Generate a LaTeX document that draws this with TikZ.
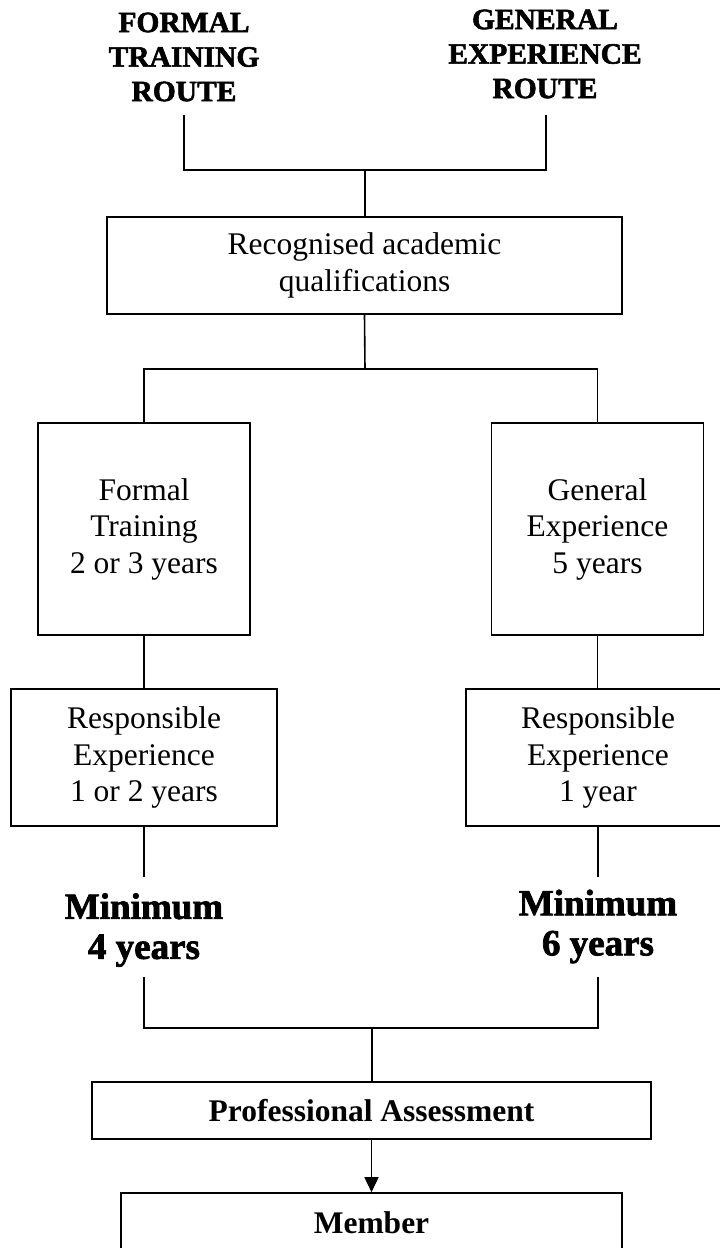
\documentclass[tikz,border=0pt]{standalone}
\usepackage{fontspec}
\setmainfont{Liberation Serif}
\newfontfamily\heavyfont[FakeBold=2]{Liberation Serif}
\usetikzlibrary{arrows.meta}
\begin{document}
\begin{tikzpicture}[x=1pt,y=-1pt,
  box/.style={draw, line width=1.6pt, inner sep=0pt, align=center, font=\fontsize{31.5}{36.5}\selectfont},
  bbox/.style={box, font=\bfseries\fontsize{31.5}{36.5}\selectfont},
  head/.style={inner sep=0pt, align=center, font=\heavyfont\bfseries\fontsize{29.5}{34.5}\selectfont},
  mini/.style={inner sep=0pt, align=center, font=\heavyfont\bfseries\fontsize{37}{40}\selectfont},
  link/.style={draw, line width=1.6pt},
  arrowlink/.style={link, -{Triangle[width=14pt,length=15pt]}},
]
\useasboundingbox (0,0) rectangle (720,1248);
\clip (0,0) rectangle (720,1248);

% headings
\node[head] (hf) at (184,57) {FORMAL\\TRAINING\\ROUTE};
\node[head] (hg) at (545,54) {GENERAL\\EXPERIENCE\\ROUTE};

% boxes
\node[box, minimum width=515, minimum height=97] (rq) at (364.5,265.5) {Recognised academic\\qualifications};
\node[box, minimum width=212.5, minimum height=212] (ft) at (144,529) {Formal\\Training\\2 or 3 years};
\node[box, minimum width=212, minimum height=212] (ge) at (597.5,529) {General\\Experience\\5 years};
\node[box, minimum width=265.5, minimum height=137] (rl) at (144,757.5) {Responsible\\Experience\\1 or 2 years};
\node[box, minimum width=264, minimum height=137] (rr) at (598,757.5) {Responsible\\Experience\\1 year};

% minimum texts
\node[mini] (ml) at (144,930) {Minimum\\4 years};
\node[mini] (mr) at (598,926.5) {Minimum\\6 years};

% bottom boxes
\node[bbox, minimum width=559, minimum height=57] (pa) at (371.5,1110.5) {Professional Assessment};
\node[bbox, minimum width=501, minimum height=60] (mb) at (371.5,1223) {Member};

% junction coordinates
\coordinate (hft) at (184,115);
\coordinate (hgt) at (546,115);
\coordinate (j1) at (365,170);
\coordinate (j2) at (365,369);
\coordinate (la) at (144,877);
\coordinate (ra) at (598,877);
\coordinate (lb) at (144,977);
\coordinate (rb) at (598,977);
\coordinate (j3) at (372,1028);

% connectors
\draw[link] (hft) |- (j1) -| (hgt);
\draw[link] (j1) -- (j1 |- rq.north);
\draw[link] (rq.south) -- (j2);
\draw[link] (ft.north) |- (j2) -| (ge.north);
\draw[link] (ft.south) -- (rl.north);
\draw[link] (ge.south) -- (ge.south |- rr.north);
\draw[link] (rl.south) -- (la);
\draw[link] (rr.south) -- (ra);
\draw[link] (lb) |- (j3) -| (rb);
\draw[link] (j3) -- (j3 |- pa.north);
\draw[arrowlink] (pa.south) -- (mb.north);
\end{tikzpicture}
\end{document}
